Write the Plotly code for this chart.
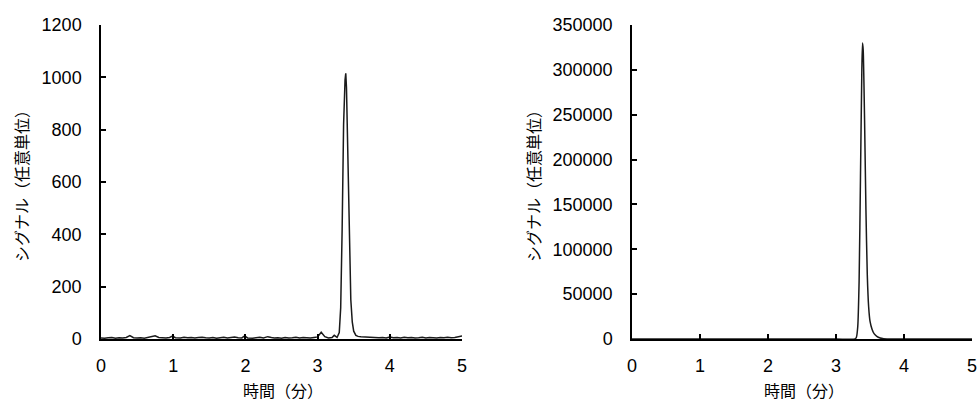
import plotly.graph_objects as go

# ---- Data ----
left_time = [0.00, 0.05, 0.10, 0.15, 0.20, 0.25, 0.30, 0.35, 0.40, 0.45,
             0.50, 0.55, 0.60, 0.65, 0.70, 0.75, 0.80, 0.85, 0.90, 0.95,
             0.99, 1.03, 1.10, 1.15, 1.20, 1.25, 1.30, 1.35, 1.40, 1.45,
             1.50, 1.55, 1.60, 1.65, 1.70, 1.75, 1.80, 1.85, 1.90, 1.95,
             1.99, 2.03, 2.10, 2.15, 2.20, 2.25, 2.31, 2.36, 2.40, 2.45,
             2.50, 2.55, 2.60, 2.65, 2.70, 2.75, 2.80, 2.85, 2.90, 2.95,
             3.00, 3.05, 3.10, 3.15, 3.20, 3.23, 3.27, 3.30, 3.32, 3.34,
             3.36, 3.38, 3.39, 3.40, 3.42, 3.44, 3.46, 3.48, 3.50, 3.53,
             3.56, 3.60, 3.65, 3.70, 3.75, 3.80, 3.85, 3.90, 3.95, 4.00,
             4.05, 4.10, 4.15, 4.20, 4.25, 4.30, 4.35, 4.40, 4.45, 4.50,
             4.55, 4.60, 4.65, 4.70, 4.75, 4.80, 4.85, 4.90, 4.95, 5.00]
left_signal = [4, 3, 5, 6, 3, 5, 4, 6, 13, 5,
               4, 5, 3, 6, 8, 12, 6, 5, 4, 6,
               11, 5, 4, 7, 5, 6, 4, 6, 7, 5,
               4, 6, 3, 5, 7, 4, 6, 8, 5, 4,
               12, 4, 3, 5, 7, 4, 9, 6, 4, 5,
               3, 6, 4, 5, 7, 4, 6, 5, 4, 6,
               8, 26, 9, 4, 6, 14, 6, 25, 120, 420,
               820, 990, 1015, 960, 700, 380, 150, 65, 30, 14,
               10, 9, 8, 7, 6, 7, 5, 6, 4, 8,
               5, 6, 4, 7, 5, 6, 4, 5, 7, 4,
               6, 5, 4, 6, 5, 7, 5, 6, 8, 12]

right_time = [0.00, 1.00, 2.00, 3.00, 3.28, 3.30, 3.32, 3.34, 3.36, 3.38,
              3.39, 3.40, 3.42, 3.44, 3.46, 3.48, 3.50, 3.53, 3.56, 3.60,
              3.65, 3.70, 3.75, 3.80, 4.00, 5.00]
right_signal = [0, 0, 0, 0, 0, 2000, 14000, 65000, 180000, 300000,
                330000, 322000, 245000, 145000, 72000, 36000, 20000, 11000, 6000, 3000,
                1200, 400, 100, 0, 0, 0]

x_ticks = [0, 1, 2, 3, 4, 5]
left_y_ticks = [0, 200, 400, 600, 800, 1000, 1200]
right_y_ticks = [0, 50000, 100000, 150000, 200000, 250000, 300000, 350000]

y_title = "シグナル（任意単位）"
x_title = "時間（分）"

W, H = 979, 405
tick_font = dict(family="Liberation Sans, Arial, sans-serif", size=18, color="#000")
title_font = dict(family="Noto Sans CJK JP, sans-serif", size=16, color="#000")

fig = go.Figure()
fig.add_trace(go.Scatter(x=left_time, y=left_signal, mode="lines",
                         line=dict(color="#1a1a1a", width=1.5),
                         xaxis="x", yaxis="y", showlegend=False))
fig.add_trace(go.Scatter(x=right_time, y=right_signal, mode="lines",
                         line=dict(color="#1a1a1a", width=1.5, shape="spline", smoothing=0.6),
                         xaxis="x2", yaxis="y2", showlegend=False))

ydom = [1 - 339 / H, 1 - 25 / H]
common_x = dict(range=[0, 5], tickvals=x_ticks, showgrid=False, zeroline=False,
                showline=True, linecolor="#000", linewidth=1.5,
                ticks="inside", ticklen=5, tickcolor="#000", tickwidth=1.5,
                tickfont=tick_font, ticklabelstandoff=10, automargin=False)
common_y = dict(showgrid=False, zeroline=False, showline=True, linecolor="#000",
                linewidth=1.5, ticks="inside", ticklen=5, tickcolor="#000",
                tickwidth=1.5, tickfont=tick_font, ticklabelstandoff=14, domain=ydom,
                automargin=False)

fig.update_layout(
    width=W, height=H,
    margin=dict(l=0, r=0, t=0, b=0, pad=0, autoexpand=False),
    paper_bgcolor="white", plot_bgcolor="white",
    xaxis=dict(domain=[101 / W, 462 / W], anchor="y", **common_x),
    yaxis=dict(range=[0, 1200], tickvals=left_y_ticks, anchor="x", **common_y),
    xaxis2=dict(domain=[632 / W, 972 / W], anchor="y2", **common_x),
    yaxis2=dict(range=[0, 350000], tickvals=right_y_ticks, tickformat="d", anchor="x2", **common_y),
)

annos = [
    dict(x=21 / W, y=1 - 182 / H, text=y_title, textangle=-90),
    dict(x=533 / W, y=1 - 182 / H, text=y_title, textangle=-90),
    dict(x=283 / W, y=1 - 390 / H, text=x_title, textangle=0),
    dict(x=804 / W, y=1 - 390 / H, text=x_title, textangle=0),
]
for a in annos:
    fig.add_annotation(xref="paper", yref="paper", showarrow=False,
                       xanchor="center", yanchor="middle", font=title_font, **a)

fig.write_html("out.html")
